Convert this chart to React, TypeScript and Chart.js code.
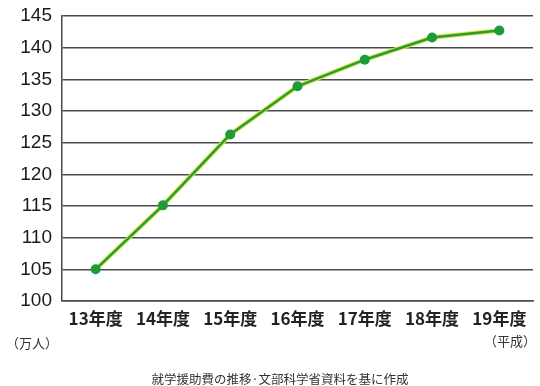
import React, { useEffect, useRef } from "react";
import { Chart, registerables } from "chart.js";

Chart.register(...registerables);

const categories = ["13年度", "14年度", "15年度", "16年度", "17年度", "18年度", "19年度"];
const values = [105.0, 115.1, 126.3, 133.9, 138.1, 141.6, 142.7];
const yMin = 100;
const yMax = 145;
const yStep = 5;
const unitLabel = "（万人）";
const eraLabel = "（平成）";
const caption = "就学援助費の推移·文部科学省資料を基に作成";

const NUM_FONT = "'Liberation Sans', Arial, 'Noto Sans CJK JP', sans-serif";
const JP_FONT = "'Noto Sans CJK JP', 'Liberation Sans', sans-serif";

export default function App() {
  const ref = useRef<HTMLCanvasElement | null>(null);

  useEffect(() => {
    if (!ref.current) return;
    const chart = new Chart(ref.current, {
      type: "line",
      data: {
        labels: categories,
        datasets: [
          {
            data: values,
            borderColor: "#2a9c34",
            borderWidth: 2.5,
            pointRadius: 5,
            pointBackgroundColor: "#1f9a3a",
            pointBorderColor: "#1f9a3a",
            pointBorderWidth: 0,
            tension: 0,
            order: 1,
          },
          {
            data: values,
            borderColor: "#d8e84a",
            borderWidth: 4.5,
            pointRadius: 0,
            tension: 0,
            order: 2,
          },
        ],
      },
      options: {
        responsive: false,
        animation: false,
        layout: { padding: { top: 16, right: 7, left: 0, bottom: 0 } },
        plugins: {
          legend: { display: false },
          tooltip: { enabled: false },
        },
        scales: {
          x: {
            offset: true,
            grid: { display: false, drawTicks: false },
            border: { display: true, color: "#4a4a4a", width: 1.5 },
            ticks: {
              color: "#222",
              font: { family: JP_FONT, size: 17, weight: "bold" },
              padding: 7,
              maxRotation: 0,
              autoSkip: false,
            },
            afterFit: (s: any) => {
              s.height = 85;
            },
          },
          y: {
            min: yMin,
            max: yMax,
            grid: { color: "#4a4a4a", lineWidth: 1.5, drawTicks: false },
            border: { display: true, color: "#4a4a4a", width: 1.5 },
            ticks: {
              stepSize: yStep,
              color: "#1a1a1a",
              font: { family: NUM_FONT, size: 19, lineHeight: 0.5 },
              padding: 10,
            },
            afterFit: (s: any) => {
              s.width = 62;
            },
          },
        },
      },
    });
    return () => chart.destroy();
  }, []);

  return (
    <div style={{ position: "fixed", left: 0, top: 0, width: 540, height: 386, background: "#fff" }}>
      <canvas ref={ref} width={540} height={386} style={{ display: "block" }} />
      <div style={{ position: "absolute", left: 6, top: 333, fontFamily: JP_FONT, fontSize: 13, color: "#333", whiteSpace: "nowrap" }}>
        {unitLabel}
      </div>
      <div style={{ position: "absolute", right: 4, top: 331, fontFamily: JP_FONT, fontSize: 13, color: "#333", whiteSpace: "nowrap" }}>
        {eraLabel}
      </div>
      <div style={{ position: "absolute", left: 0, width: 560, top: 369, textAlign: "center", fontFamily: JP_FONT, fontSize: 12.5, color: "#333", whiteSpace: "nowrap" }}>
        {caption}
      </div>
    </div>
  );
}
